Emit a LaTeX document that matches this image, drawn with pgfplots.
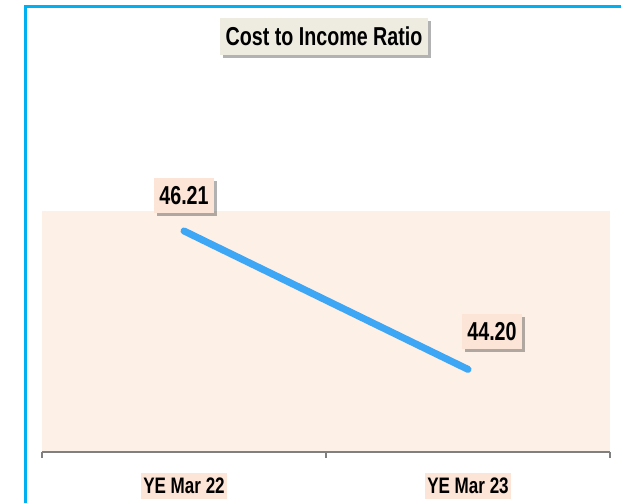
\documentclass[border=0pt]{standalone}
\usepackage{fontspec}
\setmainfont{Liberation Sans}
\newfontfamily\narrow[FakeStretch=0.76]{Liberation Sans}
\usepackage{pgfplots}
\pgfplotsset{compat=1.18}
\usetikzlibrary{shadows}
\definecolor{frameblue}{RGB}{0,176,240}
\definecolor{plotbg}{RGB}{253,240,231}
\definecolor{labelbg}{RGB}{252,228,214}
\definecolor{titlebg}{RGB}{238,236,225}
\definecolor{lineblue}{RGB}{61,166,245}

\begin{document}
\begin{tikzpicture}[
  lbl/.style={fill=labelbg, inner xsep=5bp, inner ysep=0pt, minimum height=35bp,
    font=\narrow\bfseries\fontsize{26}{26}\selectfont,
    drop shadow={shadow xshift=3bp, shadow yshift=-3bp, fill=black, opacity=0.3}}
]
\useasboundingbox (0,0) rectangle (621bp,-503bp);
% frame
\draw[frameblue, line width=3bp] (25bp,-503bp) -- (25bp,-6bp) -- (621bp,-6bp);
% title
\node[fill=titlebg, inner xsep=6bp, inner ysep=0pt, minimum height=37bp,
  font=\narrow\bfseries\fontsize{26}{26}\selectfont,
  drop shadow={shadow xshift=3bp, shadow yshift=-3bp, fill=black, opacity=0.3}]
  at (324bp,-36bp) {Cost to Income Ratio};
\begin{axis}[
  at={(42bp,-452bp)}, anchor=south west,
  width=568bp, height=241bp, scale only axis,
  xmin=-0.5, xmax=1.5, ymin=43, ymax=46.5,
  axis x line*=bottom, axis y line=none,
  x axis line style={-, draw=gray, line width=1.5bp},
  axis background/.style={fill=plotbg},
  xtick={-0.5,0.5,1.5}, xticklabel=\empty,
  tick align=outside, major tick length=6bp,
  every tick/.style={gray, line width=1.2bp},
  extra x ticks={0,1}, extra x tick labels={YE Mar 22, YE Mar 23},
  extra x tick style={major tick length=0pt,
    xticklabel style={fill=labelbg, inner xsep=2bp, inner ysep=0pt, minimum height=26bp,
      font=\narrow\bfseries\fontsize{22.5}{22.5}\selectfont, yshift=-21bp}},
  clip=false,
]
\addplot[lineblue, line width=7bp, line cap=round] coordinates {(0,46.21) (1,44.20)};
\node[lbl, yshift=35bp] at (axis cs:0,46.21) {46.21};
\node[lbl, xshift=24bp, yshift=38bp] at (axis cs:1,44.20) {44.20};
\end{axis}
\end{tikzpicture}
\end{document}
